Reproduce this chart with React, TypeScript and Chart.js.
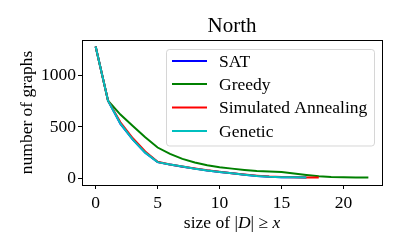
import { useEffect, useRef } from 'react';
import { Chart, registerables } from 'chart.js';

Chart.register(...registerables);

const TITLE = 'North';
const SERIES_NAMES = ['SAT', 'Greedy', 'Simulated Annealing', 'Genetic'];
const SERIES_COLORS = ['#0000ff', '#008000', '#ff0000', '#00bfbf'];

const X_SAT = [0, 1, 2, 3, 4, 5, 6, 7, 8, 9, 10, 11, 12, 13, 14, 15, 16, 17];
const Y_SAT = [1280, 755, 530, 376, 249, 158, 134, 114, 95, 77, 62, 49, 36, 24, 16, 12, 11, 10];

const X_GREEDY = [0, 1, 2, 3, 4, 5, 6, 7, 8, 9, 10, 11, 12, 13, 14, 15, 16, 17, 18, 19, 20, 21, 22];
const Y_GREEDY = [1280, 755, 620, 510, 400, 300, 238, 190, 155, 128, 108, 95, 82, 71, 66, 62, 48, 33, 20, 14, 11, 9, 8];

const X_SA = [0, 1, 2, 3, 4, 5, 6, 7, 8, 9, 10, 11, 12, 13, 14, 15, 16, 17, 18];
const Y_SA = [1280, 755, 545, 390, 262, 162, 136, 116, 97, 79, 64, 51, 38, 27, 18, 13, 11, 9, 8];

const X_GENETIC = [0, 1, 2, 3, 4, 5, 6, 7, 8, 9, 10, 11, 12, 13, 14, 15, 16, 17];
const Y_GENETIC = [1280, 755, 532, 377, 250, 158, 135, 115, 94, 76, 62, 49, 36, 24, 15, 12, 11, 10];

const X_TICKS = [0, 5, 10, 15, 20];
const Y_TICKS = [0, 500, 1000];

const FONT = '"Liberation Serif", "Times New Roman", serif';

const overlay = {
  id: 'overlay',
  afterDraw(chart: any) {
    const { ctx, chartArea } = chart;
    const { left, right, top, bottom } = chartArea;
    ctx.save();
    ctx.strokeStyle = '#000';
    ctx.lineWidth = 1;
    ctx.strokeRect(Math.round(left) + 0.5, Math.round(top) + 0.5, Math.round(right - left), Math.round(bottom - top));
    ctx.fillStyle = '#000';
    ctx.textAlign = 'center';
    ctx.textBaseline = 'middle';
    ctx.font = `21px ${FONT}`;
    ctx.fillText(TITLE, (left + right) / 2, 26);
    ctx.save();
    ctx.translate(27, (top + bottom) / 2);
    ctx.rotate(-Math.PI / 2);
    ctx.font = `17.5px ${FONT}`;
    ctx.fillText('number of graphs', 0, 0);
    ctx.restore();
    const parts: [string, boolean][] = [['size of |', false], ['D', true], ['| \u2265 ', false], ['x', true]];
    let total = 0;
    const widths: number[] = [];
    for (const [t, it] of parts) {
      ctx.font = `${it ? 'italic ' : ''}17.5px ${FONT}`;
      const w = ctx.measureText(t).width;
      widths.push(w);
      total += w;
    }
    let x = (left + right) / 2 - total / 2;
    ctx.textAlign = 'left';
    parts.forEach(([t, it], i) => {
      ctx.font = `${it ? 'italic ' : ''}17.5px ${FONT}`;
      ctx.fillText(t, x, 223);
      x += widths[i];
    });
    const bx = 166.5, by = 49.5, bw = 208, bh = 96.5;
    ctx.beginPath();
    ctx.roundRect(bx, by, bw, bh, 3);
    ctx.fillStyle = 'rgba(255,255,255,0.8)';
    ctx.fill();
    ctx.strokeStyle = 'rgba(204,204,204,0.8)';
    ctx.lineWidth = 1;
    ctx.stroke();
    const rows = [61, 84, 107.5, 131];
    ctx.font = `17.5px ${FONT}`;
    ctx.textBaseline = 'middle';
    SERIES_NAMES.forEach((name, i) => {
      ctx.strokeStyle = SERIES_COLORS[i];
      ctx.lineWidth = 2;
      ctx.beginPath();
      ctx.moveTo(172, rows[i]);
      ctx.lineTo(207, rows[i]);
      ctx.stroke();
      ctx.fillStyle = '#000';
      ctx.fillText(name, 219, rows[i] + 1);
    });
    ctx.restore();
  },
};

export default function App() {
  const ref = useRef<HTMLCanvasElement>(null);
  useEffect(() => {
    if (!ref.current) return;
    const mk = (xs: number[], ys: number[]) => xs.map((x, i) => ({ x, y: ys[i] }));
    const all = [mk(X_SAT, Y_SAT), mk(X_GREEDY, Y_GREEDY), mk(X_SA, Y_SA), mk(X_GENETIC, Y_GENETIC)];
    const tickFont = { family: FONT, size: 17.5 };
    const chart = new Chart(ref.current, {
      type: 'line',
      data: {
        datasets: all.map((d, i) => ({
          label: SERIES_NAMES[i],
          data: d,
          borderColor: SERIES_COLORS[i],
          backgroundColor: SERIES_COLORS[i],
          borderWidth: 2,
          pointRadius: 0,
          tension: 0,
          fill: false,
          order: all.length - i,
        })),
      },
      options: {
        responsive: false,
        animation: false,
        layout: { padding: { top: 40, right: 18, left: 0, bottom: 0 } },
        plugins: { legend: { display: false }, title: { display: false }, tooltip: { enabled: false } },
        scales: {
          x: {
            type: 'linear',
            min: -1.1,
            max: 23.1,
            afterBuildTicks: (s: any) => { s.ticks = X_TICKS.map((v) => ({ value: v })); },
            afterFit: (s: any) => { s.height = 65; },
            grid: { drawOnChartArea: false, drawTicks: true, tickLength: 4, color: '#000' },
            border: { display: true, color: '#000' },
            ticks: { font: tickFont, color: '#000', padding: 4, maxRotation: 0, autoSkip: false, callback: (v: any) => String(v) },
          },
          y: {
            type: 'linear',
            min: -64,
            max: 1344,
            afterBuildTicks: (s: any) => { s.ticks = Y_TICKS.map((v) => ({ value: v })); },
            afterFit: (s: any) => { s.width = 82; },
            grid: { drawOnChartArea: false, drawTicks: true, tickLength: 4, color: '#000' },
            border: { display: true, color: '#000' },
            ticks: { font: tickFont, color: '#000', padding: 2, autoSkip: false, callback: (v: any) => String(v) },
          },
        },
      },
      plugins: [overlay],
    } as any);
    return () => chart.destroy();
  }, []);
  return (
    <div style={{ position: 'fixed', left: 0, top: 0, width: 400, height: 250, background: '#fff' }}>
      <canvas ref={ref} width={400} height={250} />
    </div>
  );
}
